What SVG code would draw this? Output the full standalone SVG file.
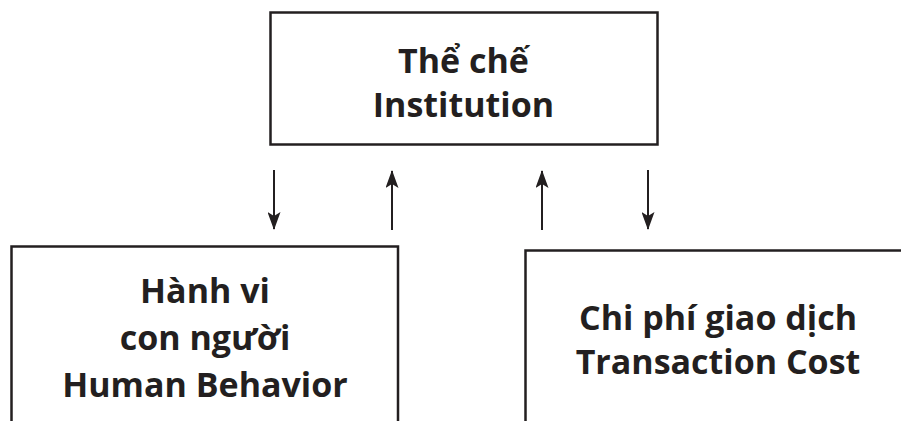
<svg xmlns="http://www.w3.org/2000/svg" width="901" height="421" viewBox="0 0 901 421">
<style>
.box{fill:#fff;stroke:#231f20;stroke-width:2.5}
.t{font-family:"Open Sans","Liberation Sans",sans-serif;font-weight:bold;font-size:34px;fill:#231f20;text-anchor:middle}
.c{stroke:#231f20;stroke-width:2;fill:none}
</style>
<defs>
<marker id="ah" markerWidth="18" markerHeight="13" refX="17" refY="6.5" viewBox="0 0 18 13" markerUnits="userSpaceOnUse" orient="auto">
<path d="M0,0 L18,6.5 L0,13 L4,6.5 Z" fill="#231f20"/>
</marker>
</defs>
<rect width="901" height="421" fill="#fff"/>
<g id="institution">
<rect class="box" x="270.5" y="12.5" width="387" height="132"/>
<text class="t" x="463.5" y="73">Thể chế</text>
<text class="t" x="463.5" y="117">Institution</text>
</g>
<g id="human-behavior">
<rect class="box" x="11.5" y="246.5" width="386.5" height="190"/>
<text class="t" x="205" y="303">Hành vi</text>
<text class="t" x="205" y="350">con người</text>
<text class="t" x="205" y="397">Human Behavior</text>
</g>
<g id="transaction-cost">
<rect class="box" x="525.5" y="250.5" width="400" height="190"/>
<text class="t" x="718" y="330">Chi phí giao dịch</text>
<text class="t" x="718" y="374">Transaction Cost</text>
</g>
<g id="connectors">
<line class="c" x1="274" y1="170" x2="274" y2="229" marker-end="url(#ah)"/>
<line class="c" x1="392" y1="230" x2="392" y2="171" marker-end="url(#ah)"/>
<line class="c" x1="542" y1="230" x2="542" y2="171" marker-end="url(#ah)"/>
<line class="c" x1="648" y1="170" x2="648" y2="229" marker-end="url(#ah)"/>
</g>
</svg>
